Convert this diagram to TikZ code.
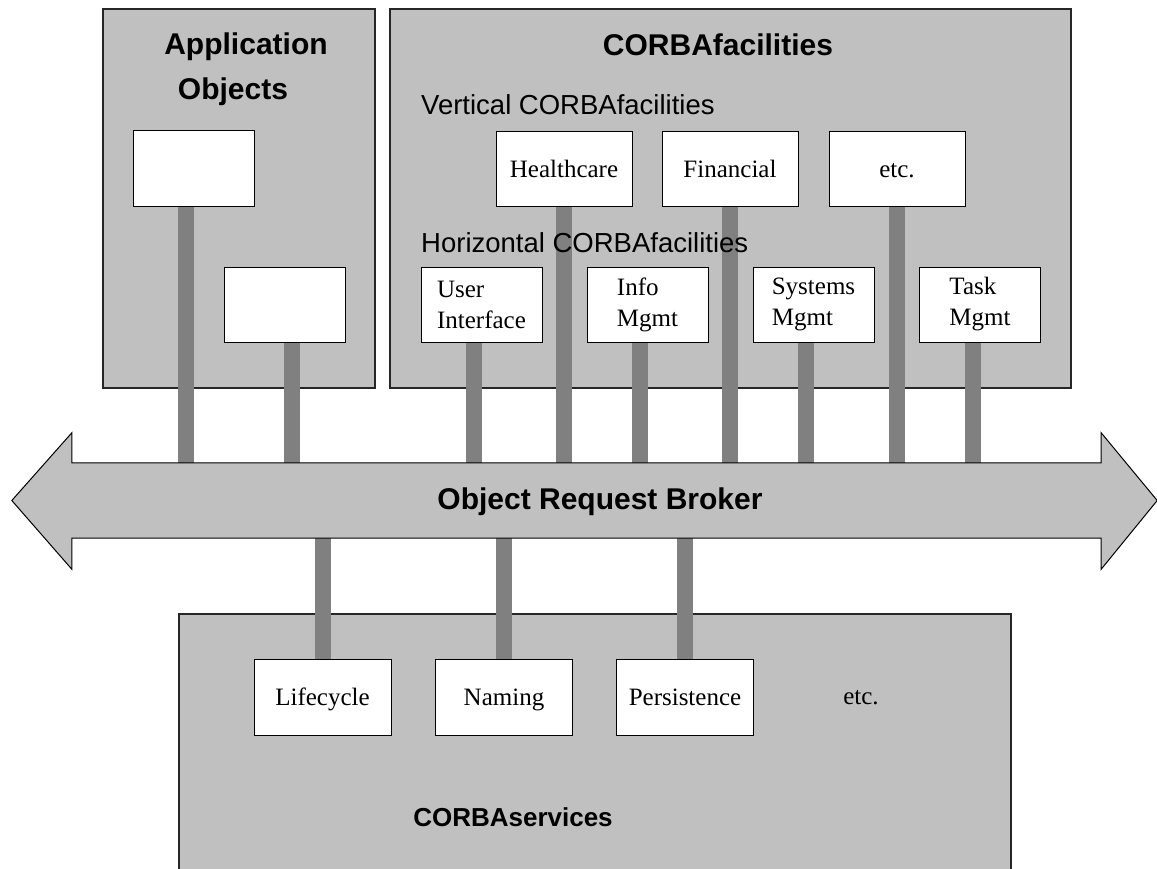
\documentclass[tikz,border=0pt]{standalone}
\usepackage{fontspec}
\setmainfont{Liberation Serif}
\setsansfont{Liberation Sans}
\usetikzlibrary{positioning,calc}
\definecolor{panelgris}{RGB}{192,192,192}
\definecolor{barragris}{RGB}{128,128,128}
\pgfdeclarelayer{fondo}
\pgfdeclarelayer{barras}
\pgfsetlayers{fondo,barras,main}

\begin{document}
\begin{tikzpicture}[x=1pt, y=-1pt,
  panel/.style={rectangle, draw=black!85, line width=1.2pt, fill=panelgris,
    inner sep=0pt},
  caja/.style={rectangle, draw=black, line width=1pt, fill=white, inner sep=0pt,
    minimum height=75pt, align=left, font=\fontsize{25}{31}\selectfont},
  cajav/.style={caja, minimum width=136pt, text height=21pt, text depth=4pt},
  cajah/.style={caja, minimum width=121pt},
  barra/.style={draw=barragris, line width=16pt},
  flechaorb/.style={draw=black, line width=1pt, fill=panelgris},
  titulo/.style={inner sep=0pt, font=\fontsize{30}{45}\selectfont\sffamily\bfseries},
  subtitulo/.style={inner sep=0pt, anchor=base west,
    font=\fontsize{27.5}{33}\selectfont\sffamily}
]
\useasboundingbox (0,0) rectangle (1157,868);

\begin{pgfonlayer}{fondo}
\fill[white] (0,0) rectangle (1157,868);
\node[panel, minimum width=272pt, minimum height=379pt] (app) at (239,198.5) {};
\node[panel, minimum width=681pt, minimum height=379pt] (fac) at (730.5,198.5) {};
\node[panel, minimum width=832pt, minimum height=266pt] (svc) at (595,747) {};
\end{pgfonlayer}

\node[cajah, minimum height=76pt] (ao1) at (193.5,168) {};
\node[cajah] (ao2) at (284.5,304.5) {};
\node[cajav] (vf1) at (564,168.5) {Healthcare};
\node[cajav] (vf2) at (730,168.5) {Financial};
\node[cajav] (vf3) at (897,168.5) {etc.};
\node[cajah] (hf1) at (481.5,304.5) {User\\Interface};
\node[cajah] (hf2) at (647.5,304.5) {Info\\Mgmt};
\node[cajah] (hf3) at (813.5,304.5) {Systems\\Mgmt};
\node[cajah] (hf4) at (980,304.5) {Task\\Mgmt};
\node[cajav, minimum width=137pt, minimum height=76pt] (sv1) at (322.5,697) {Lifecycle};
\node[cajav, minimum width=137pt, minimum height=76pt] (sv2) at (504,697) {Naming};
\node[cajav, minimum width=137pt, minimum height=76pt] (sv3) at (685,697) {Persistence};
\node[inner sep=0pt, font=\fontsize{25}{30}\selectfont] (svetc) at (861,698) {etc.};

% cuerpo del ORB
\node[inner sep=0pt, minimum width=1029pt, minimum height=75pt] (orb) at (586.5,500.5) {};
\draw[flechaorb] (orb.north west) -- ++(0,-30) -- ([xshift=-60pt]orb.west)
  -- ([yshift=-31pt]orb.south west) -- (orb.south west) -- (orb.south east)
  -- ++(0,31) -- ([xshift=56pt]orb.east) -- ([yshift=30pt]orb.north east)
  -- (orb.north east) -- cycle;

\begin{pgfonlayer}{barras}
\draw[barra] ([xshift=7.5pt]ao2.south) -- ([xshift=7.5pt]ao2.south |- orb.north);
\foreach \n in {ao1,hf1,hf2,hf3,hf4}
  \draw[barra] ([xshift=-7.5pt]\n.south) -- ([xshift=-7.5pt]\n.south |- orb.north);
\foreach \n in {vf1,vf2,vf3}
  \draw[barra] (\n.south) -- (\n.south |- orb.north);
\foreach \n in {sv1,sv2,sv3}
  \draw[barra] (\n.north) -- (\n.north |- orb.south);
\end{pgfonlayer}

\node[titulo, align=center] (tapp) at (246,69.5) {Application\\Objects\hspace*{26pt}};
\node[titulo, anchor=base] (tfac) at (718,55) {CORBAfacilities};
\node[subtitulo] (tvert) at (421,114) {Vertical CORBAfacilities};
\node[subtitulo] (thor) at (421,252) {Horizontal CORBAfacilities};
\node[titulo, anchor=base] (torb) at (600,509) {Object Request Broker};
\node[titulo, anchor=base, font=\fontsize{26}{30}\selectfont\sffamily\bfseries]
  (tsvc) at (513,826) {CORBAservices};
\end{tikzpicture}
\end{document}
